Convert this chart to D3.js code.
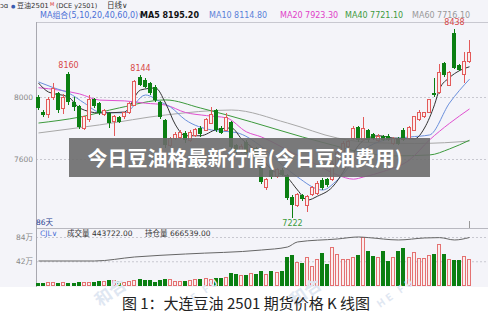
<!DOCTYPE html>
<html>
<head>
<meta charset="utf-8">
<script src="https://cdn.jsdelivr.net/npm/d3@7"></script>
<style>
  body { margin: 0; background: #fff; }
  svg { display: block; font-family: "DejaVu Sans", "Noto Sans CJK SC", sans-serif; }
</style>
</head>
<body>
<svg id="chart" width="500" height="315"></svg>
<script>
/*------- Data -------*/

// daily candles, index 0..85 (86 days)
const opens  = [8000,7903,7884,7994,8026,7929,8148,7968,7942,7800,7852,7987,7961,7884,7897,7839,7871,7871,7897,7948,
                8130,8110,8090,8065,7968,7852,7690,7730,7740,7770,7720,7750,7800,7787,7832,7916,7800,7787,7839,7690,
                7650,7710,7640,7670,7548,7413,7529,7484,7530,7497,7355,7303,7368,7297,7368,7380,7465,7470,7465,7560,
                7640,7680,7735,7806,7723,7787,7760,7720,7748,7750,7700,7730,7787,7735,7787,7852,7871,7903,8026,8026,
                8219,8077,8413,8206,8142,8226];
const closes = [7929,7884,7981,8058,7916,7994,7968,7935,7806,7871,7981,7942,7897,7916,7832,7877,7839,7897,7961,8097,
                8077,8065,8026,7981,7871,7690,7730,7760,7770,7720,7770,7790,7760,7852,7884,7787,7770,7865,7677,7650,
                7680,7640,7670,7600,7452,7465,7484,7530,7497,7348,7303,7368,7342,7355,7413,7445,7413,7430,7574,7640,
                7700,7710,7800,7723,7800,7723,7730,7745,7723,7725,7730,7700,7723,7806,7871,7903,7897,7981,8013,8155,
                8142,8161,8187,8174,8226,8284];
const highs  = [8010,7915,8000,8090,8035,8020,8160,8000,7950,7880,8010,7995,7970,7925,7905,7885,7880,7905,7970,8110,
                8144,8120,8100,8075,7975,7860,7745,7775,7785,7780,7790,7800,7810,7865,7935,7925,7810,7900,7845,7700,
                7695,7720,7685,7680,7560,7480,7540,7545,7540,7505,7365,7380,7375,7365,7425,7455,7475,7480,7585,7655,
                7715,7720,7815,7815,7870,7795,7770,7760,7755,7760,7745,7740,7800,7815,7880,7915,7905,7990,8123,8213,
                8225,8170,8438,8215,8290,8365];
const lows   = [7915,7870,7865,7980,7900,7890,7950,7910,7795,7790,7840,7930,7885,7875,7800,7750,7830,7860,7890,7940,
                8070,8055,8015,7970,7860,7670,7675,7720,7730,7705,7710,7740,7745,7780,7825,7775,7760,7780,7665,7635,
                7640,7630,7630,7560,7440,7400,7470,7475,7490,7335,7222,7290,7330,7260,7360,7370,7400,7420,7455,7550,
                7630,7670,7725,7710,7715,7710,7720,7710,7715,7715,7690,7690,7715,7725,7780,7845,7865,7895,8000,8020,
                8130,8070,8180,8165,8090,8220];

// volume, 万手
const volumes = [4.7,4.7,4.7,4.7,4.7,4.7,4.7,4.7,5.8,5.8,5.8,5.8,7,7,9,8,7,6,7,8.8,
                 10.5,10,8.8,5.8,8.8,11.7,10.5,7,7,8,8.8,10.5,11.7,11.7,10.5,12.8,12.8,14.6,21.6,19.3,
                 17.5,17.5,21.6,20.4,25,18.7,25,23,24.5,49,52,39.7,39,48.4,33,45.5,56.6,37.3,66,53.7,
                 45,45,48.4,52.5,82.8,59.5,51.3,48.4,60,42,47.8,59.5,65.3,48.4,57,46.7,46,52,55.4,71,
                 55,45,43.75,45,50.8,44.4];

// open interest, [day index, 万手]
const openInterest = [[0,33.7],[11,33.7],[19,39.3],[29,43.5],[44,49.1],[49,53.3],[51,60.4],[59,64.6],
                      [63,67.4],[65,66.5],[71,63.2],[76,66],[79,66.5],[82,63.2],[85,66.65]];

// moving averages, [day index, price]
const ma5  = [[0,8090],[2,8032],[6,8000],[8,7929],[12,7897],[17,7903],[20,8045],[23,8058],[25,7961],[27,7820],
              [29,7750],[32,7750],[35,7790],[38,7800],[40,7730],[43,7650],[46,7530],[49,7480],[51,7400],[53,7335],
              [55,7360],[58,7420],[60,7520],[62,7640],[64,7720],[67,7750],[70,7735],[74,7730],[76,7800],[78,7950],
              [79,8050],[81,8125],[83,8170],[85,8195]];
const ma10 = [[0,8097],[3,8060],[6,8026],[9,7960],[12,7903],[17,7897],[21,8013],[24,7968],[26,7935],[29,7852],
              [34,7787],[39,7770],[44,7680],[48,7560],[51,7484],[56,7400],[59,7465],[64,7658],[68,7720],[73,7742],
              [77,7755],[81,7961],[85,8115]];
const ma20 = [[0,8060],[4,8045],[8,8020],[12,7980],[17,7975],[21,7960],[25,7948],[29,7900],[33,7880],[37,7865],
              [41,7775],[44,7742],[50,7640],[55,7560],[59,7497],[62,7470],[64,7484],[68,7520],[73,7594],[77,7723],
              [81,7830],[85,7923]];
const ma40 = [[0,7832],[8,7870],[16,7930],[25,7981],[32,7929],[42,7839],[52,7742],[58,7690],[64,7640],[70,7620],
              [77,7626],[81,7665],[85,7721]];
const ma60 = [[0,7768],[12,7820],[25,7884],[38,7916],[49,7832],[59,7735],[66,7705],[74,7700],[80,7705],[85,7716]];

const priceTicks = [7600, 8000];
const volumeTicks = [42, 84];
const highMarks = [6, 20, 82];
const lowMarks = [50];

const maLegend = [
  { text: 'MA5 8195.20',  color: '#111',    bold: true },
  { text: 'MA10 8114.80', color: '#5b82d8' },
  { text: 'MA20 7923.30', color: '#e040c8' },
  { text: 'MA40 7721.10', color: '#3d9a3d' },
  { text: 'MA60 7716.10', color: '#999' }
];

/*------- Layout -------*/

const plot = { left: 36, right: 488, top: 22, split: 228, bottom: 286 };
const UP = '#e35a5a', UP_FILL = '#fbeeee', DOWN = '#0b7f12';

const svg = d3.select('#chart');

// backgrounds
svg.append('rect').attr('width', 500).attr('height', 315).attr('fill', '#fff');
svg.append('rect').attr('width', plot.right).attr('height', plot.bottom + 1).attr('fill', '#f4f4f9');

// scales
const days = d3.range(opens.length);
const x = d3.scaleBand().domain(days).range([plot.left, 471]).paddingInner(0.3);
const cx = i => Math.round(x(i)) + 2;
const y = d3.scaleLinear().domain([7600, 8000]).range([159, 97]);
const yVol = d3.scaleLinear().domain([0, 84]).range([285.5, 237]);
const yOi = d3.scaleLinear().domain([0, 80]).range([285, 228]);

/*------- Axes and grid -------*/

function gridAxis(scale, ticks, fmt) {
  const g = svg.append('g')
    .attr('transform', 'translate(' + plot.left + ',0)')
    .call(d3.axisLeft(scale).tickValues(ticks).tickSize(-(plot.right - plot.left))
      .tickPadding(3).tickFormat(fmt));
  g.select('.domain').remove();
  g.selectAll('line').attr('stroke', '#c8c8d0').attr('stroke-dasharray', '2,2');
  g.selectAll('text').attr('fill', '#888').attr('font-size', 7.5)
    .attr('font-family', '"DejaVu Sans","Noto Sans CJK SC",sans-serif');
}
gridAxis(y, priceTicks, d => d);
gridAxis(yVol, volumeTicks, d => d + '万');

// frame lines
svg.append('line').attr('x1', plot.left).attr('x2', plot.right).attr('y1', plot.top + 0.5).attr('y2', plot.top + 0.5)
  .attr('stroke', '#c8c8d0');
svg.append('line').attr('x1', plot.left).attr('x2', plot.right).attr('y1', plot.split + 0.5).attr('y2', plot.split + 0.5)
  .attr('stroke', '#b8b8c0');
svg.append('line').attr('x1', plot.left + 0.5).attr('x2', plot.left + 0.5).attr('y1', plot.top).attr('y2', plot.bottom + 1)
  .attr('stroke', '#a8a8b0');
// last-day marker
svg.append('line').attr('x1', cx(days.length - 1) + 0.5).attr('x2', cx(days.length - 1) + 0.5)
  .attr('y1', 221).attr('y2', plot.split).attr('stroke', '#999');

/*------- Moving averages -------*/

const maLine = d3.line().x(d => cx(d[0]) + 0.5).y(d => y(d[1])).curve(d3.curveMonotoneX);
[[ma60, '#a8a8a8'], [ma40, '#3d9a3d'], [ma20, '#e050d0'], [ma10, '#6a8fdc'], [ma5, '#333']]
  .forEach(([data, color]) => {
    svg.append('path').attr('d', maLine(data)).attr('fill', 'none')
      .attr('stroke', color).attr('stroke-width', 1);
  });

/*------- Candles -------*/

const candles = days.map(i => ({ i, o: opens[i], c: closes[i], h: highs[i], l: lows[i], up: closes[i] >= opens[i] }));

const cg = svg.append('g').attr('shape-rendering', 'crispEdges');
candles.forEach(d => {
  const top = y(Math.max(d.o, d.c)), bot = y(Math.min(d.o, d.c));
  const color = d.up ? UP : DOWN;
  const xc = cx(d.i) + 0.5;
  cg.append('line').attr('x1', xc).attr('x2', xc).attr('y1', y(d.h)).attr('y2', top).attr('stroke', color);
  cg.append('line').attr('x1', xc).attr('x2', xc).attr('y1', bot).attr('y2', y(d.l)).attr('stroke', color);
  if (d.up) {
    cg.append('rect').attr('x', cx(d.i) - 1.5).attr('y', top)
      .attr('width', 3).attr('height', Math.max(1, bot - top))
      .attr('fill', UP_FILL).attr('stroke', UP);
  } else {
    cg.append('rect').attr('x', cx(d.i) - 2).attr('y', top)
      .attr('width', 4).attr('height', Math.max(1, bot - top)).attr('fill', DOWN);
  }
});

// high / low marks
const markFont = '"DejaVu Sans",sans-serif';
highMarks.forEach(i => {
  svg.append('text').attr('x', cx(i) + 0.5).attr('y', y(highs[i]) - 4)
    .attr('text-anchor', 'middle').attr('font-size', 8).attr('font-family', markFont)
    .attr('fill', '#d84848').text(highs[i]);
});
lowMarks.forEach(i => {
  svg.append('text').attr('x', cx(i) + 0.5).attr('y', y(lows[i]) + 8)
    .attr('text-anchor', 'middle').attr('font-size', 8).attr('font-family', markFont)
    .attr('fill', '#3a9a3a').text(lows[i]);
});

/*------- Volume panel -------*/

const vg = svg.append('g').attr('shape-rendering', 'crispEdges');
candles.forEach(d => {
  const v = volumes[d.i];
  if (d.up) {
    vg.append('rect').attr('x', cx(d.i) - 1.5).attr('y', yVol(v))
      .attr('width', 3).attr('height', yVol(0) - yVol(v) - 0.5)
      .attr('fill', UP_FILL).attr('stroke', '#e47272');
  } else {
    vg.append('rect').attr('x', cx(d.i) - 2).attr('y', yVol(v))
      .attr('width', 4).attr('height', yVol(0) - yVol(v)).attr('fill', DOWN);
  }
});

const oiLine = d3.line().x(d => cx(d[0]) + 0.5).y(d => yOi(d[1])).curve(d3.curveMonotoneX);
svg.append('path').attr('d', oiLine(openInterest)).attr('fill', 'none')
  .attr('stroke', '#666').attr('stroke-width', 1);

/*------- Header texts -------*/

const head = svg.append('g').attr('font-size', 8).attr('fill', '#333');
head.append('text').attr('x', 0).attr('y', 8).attr('font-size', 7).text('ɔɑ');
head.append('text').attr('x', 11).attr('y', 7.5).attr('font-size', 5).attr('fill', '#3b5bb0').text('●');
head.append('text').attr('x', 17).attr('y', 8).attr('font-size', 7).text('豆油2501');
head.append('text').attr('x', 50).attr('y', 5.5).attr('font-size', 5).attr('fill', '#d83030').text('M');
head.append('text').attr('x', 56).attr('y', 8).attr('font-size', 6.5).text('(DCE y2501)');
head.append('text').attr('x', 107).attr('y', 8).attr('font-size', 7.5).text('日线∨');

head.append('text').attr('x', 40).attr('y', 17.5).attr('fill', '#4a6fd6').text('MA组合(5,10,20,40,60,0)∨');
const legendX = [140, 209, 280, 345, 412];
maLegend.forEach((m, k) => {
  head.append('text').attr('x', legendX[k]).attr('y', 17.5).attr('fill', m.color)
    .attr('font-weight', m.bold ? 'bold' : 'normal').text(m.text);
});

svg.append('text').attr('x', 36).attr('y', 224.5).attr('font-size', 7.5).attr('fill', '#2a3f8f').text('86天');

const volHead = svg.append('g').attr('font-size', 7.5).attr('fill', '#333');
volHead.append('text').attr('x', 40).attr('y', 235.5).attr('fill', '#4a6fd6').text('CJL∨');
volHead.append('text').attr('x', 67).attr('y', 235.5).text('成交量 443722.00');
volHead.append('text').attr('x', 145).attr('y', 235.5).text('持仓量 666539.00');

/*------- Watermark + caption -------*/

const wm = svg.append('g').attr('fill', '#dfe7f2').attr('font-family', '"Noto Sans CJK SC",sans-serif')
  .attr('font-weight', 'bold');
[[100, 307], [295, 307]].forEach(([wx, wy]) => {
  wm.append('text').attr('transform', 'translate(' + wx + ',' + wy + ') rotate(-35)')
    .attr('font-size', 17).text('和合');
  wm.append('text').attr('transform', 'translate(' + (wx + 85) + ',' + (wy + 1) + ') rotate(-35)')
    .attr('font-size', 10).attr('letter-spacing', 3).text('HE FU');
});

svg.append('text').attr('x', 246).attr('y', 302).attr('text-anchor', 'middle')
  .attr('dominant-baseline', 'central').attr('font-size', 15).attr('fill', '#222')
  .attr('font-family', '"Noto Sans CJK SC",sans-serif')
  .text('图 1：大连豆油 2501 期货价格 K 线图');

/*------- Title overlay -------*/

svg.append('rect').attr('x', 69).attr('y', 138).attr('width', 361).attr('height', 39)
  .attr('fill', '#6c6c6c').attr('opacity', 0.9);
svg.append('text').attr('x', 245).attr('y', 157.5).attr('text-anchor', 'middle')
  .attr('dominant-baseline', 'central').attr('font-size', 20).attr('font-weight', 'bold')
  .attr('fill', '#fff').attr('font-family', '"Noto Sans CJK SC",sans-serif')
  .text('今日豆油格最新行情(今日豆油费用)');
</script>
</body>
</html>
